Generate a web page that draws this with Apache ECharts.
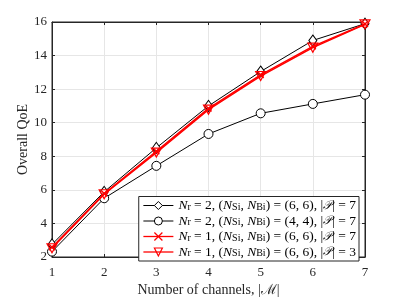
<!DOCTYPE html>
<html><head><meta charset="utf-8">
<script src="https://cdn.jsdelivr.net/npm/echarts@6/dist/echarts.min.js"></script>
<style>html,body{margin:0;padding:0;background:#fff}#c{width:403px;height:302px}</style>
</head><body><div id="c"></div>
<script>
const categories = [1, 2, 3, 4, 5, 6, 7];
const yTicks = [2, 4, 6, 8, 10, 12, 14, 16];
const seriesNames = ['s1', 's2', 's3', 's4'];
const nr2_66_p7 = [2.75, 5.88, 8.5, 11.0, 13.05, 14.9, 15.9];
const nr2_44_p7 = [2.32, 5.5, 7.43, 9.33, 10.56, 11.12, 11.67];
const nr1_66_p7 = [2.58, 5.78, 8.3, 10.85, 12.85, 14.55, 15.88];
const nr1_66_p3 = [2.52, 5.74, 8.22, 10.78, 12.78, 14.47, 15.86];
const legendTexts = {
  s1: '{i|N}{s|r} = 2, ({i|N}{s|Si}, {i|N}{s|Bi}) = (6, 6), |{c|𝒫}| = 7',
  s2: '{i|N}{s|r} = 2, ({i|N}{s|Si}, {i|N}{s|Bi}) = (4, 4), |{c|𝒫}| = 7',
  s3: '{i|N}{s|r} = 1, ({i|N}{s|Si}, {i|N}{s|Bi}) = (6, 6), |{c|𝒫}| = 7',
  s4: '{i|N}{s|r} = 1, ({i|N}{s|Si}, {i|N}{s|Bi}) = (6, 6), |{c|𝒫}| = 3'
};
const FONT = 'Liberation Serif, DejaVu Serif, serif';
const chart = echarts.init(document.getElementById('c'), null, {renderer: 'canvas'});
const axisCol = '#262626';
const gridCol = '#e6e6e6';
const crossPath = 'path://M0,0L10,10M10,0L0,10';
function pts(arr){ return categories.map((c,i)=>[c, arr[i]]); }
const option = {
  animation: false,
  backgroundColor: '#fff',
  grid: {left: 52, right: 38, top: 22, bottom: 39, show: true, borderColor: axisCol, borderWidth: 1},
  xAxis: [{
    type: 'value', min: 1, max: 7, interval: 1,
    name: 'Number of channels, |ℳ|', nameLocation: 'middle', nameGap: 26, nameMoveOverlap: false,
    nameTextStyle: {fontFamily: FONT, fontSize: 14, color: axisCol},
    axisLine: {show: true, lineStyle: {color: axisCol}},
    axisTick: {show: true, inside: true, length: 3, lineStyle: {color: axisCol}},
    axisLabel: {fontFamily: FONT, fontSize: 13, color: axisCol, margin: 9},
    splitLine: {show: true, lineStyle: {color: gridCol}}
  },{
    type: 'value', min: 1, max: 7, interval: 1, position: 'top',
    axisLine: {show: true, lineStyle: {color: axisCol}},
    axisTick: {show: true, inside: true, length: 3, lineStyle: {color: axisCol}},
    axisLabel: {show: false}, splitLine: {show: false}
  }],
  yAxis: [{
    type: 'value', min: 2, max: 16, interval: 2,
    name: 'Overall QoE', nameLocation: 'middle', nameGap: 22, nameMoveOverlap: false,
    nameTextStyle: {fontFamily: FONT, fontSize: 14, color: axisCol},
    axisLine: {show: true, lineStyle: {color: axisCol}},
    axisTick: {show: true, inside: true, length: 3, lineStyle: {color: axisCol}},
    axisLabel: {fontFamily: FONT, fontSize: 13, color: axisCol, margin: 5,
      formatter: v => yTicks.includes(v) ? String(v) : ''},
    splitLine: {show: true, lineStyle: {color: gridCol}}
  },{
    type: 'value', min: 2, max: 16, interval: 2, position: 'right',
    axisLine: {show: true, lineStyle: {color: axisCol}},
    axisTick: {show: true, inside: true, length: 3, lineStyle: {color: axisCol}},
    axisLabel: {show: false}, splitLine: {show: false}
  }],
  legend: {
    orient: 'vertical', right: 44, bottom: 41,
    backgroundColor: '#fff', borderColor: '#262626', borderWidth: 1,
    padding: [2, 3, 2, 4], itemGap: 1.5, itemWidth: 30, itemHeight: 10,
    data: [
      {name: 's1', itemStyle: {color: '#fff', borderColor: '#000', borderWidth: 1}, lineStyle: {width: 1, color: '#000'}},
      {name: 's2', itemStyle: {color: '#fff', borderColor: '#000', borderWidth: 1}, lineStyle: {width: 1, color: '#000'}},
      {name: 's3', itemStyle: {color: 'none', borderColor: '#ff0000', borderWidth: 1.2}, lineStyle: {width: 1.3, color: '#ff0000'}},
      {name: 's4', itemStyle: {color: 'none', borderColor: '#ff0000', borderWidth: 1.2}, lineStyle: {width: 1.3, color: '#ff0000'}}
    ],
    formatter: n => legendTexts[n],
    textStyle: {fontFamily: FONT, fontSize: 13.5, color: '#000', lineHeight: 13,
      rich: {
        i: {fontFamily: FONT, fontSize: 13.5, fontStyle: 'italic', color: '#000', lineHeight: 13},
        s: {fontFamily: FONT, fontSize: 10, color: '#000', verticalAlign: 'bottom', lineHeight: 9},
        c: {fontFamily: 'DejaVu Serif, DejaVu Sans, serif', fontSize: 12, fontStyle: 'italic', color: '#000', lineHeight: 13}
      }}
  },
  series: [
    {name: 's1', type: 'line', data: pts(nr2_66_p7), symbol: 'diamond', symbolSize: [8, 11],
      lineStyle: {color: '#000', width: 1}, itemStyle: {color: '#fff', borderColor: '#000', borderWidth: 1}, z: 3},
    {name: 's2', type: 'line', data: pts(nr2_44_p7), symbol: 'circle', symbolSize: 9,
      lineStyle: {color: '#000', width: 1}, itemStyle: {color: '#fff', borderColor: '#000', borderWidth: 1}, z: 3},
    {name: 's3', type: 'line', data: pts(nr1_66_p7), symbol: crossPath, symbolSize: 6,
      lineStyle: {color: '#ff0000', width: 1.5}, itemStyle: {color: 'none', borderColor: '#ff0000', borderWidth: 1.5}, z: 4},
    {name: 's4', type: 'line', data: pts(nr1_66_p3), symbol: 'triangle', symbolRotate: 180, symbolSize: [10, 9],
      lineStyle: {color: '#ff0000', width: 1.5}, itemStyle: {color: 'none', borderColor: '#ff0000', borderWidth: 1.2}, z: 5}
  ]
};
chart.setOption(option);
</script></body></html>
